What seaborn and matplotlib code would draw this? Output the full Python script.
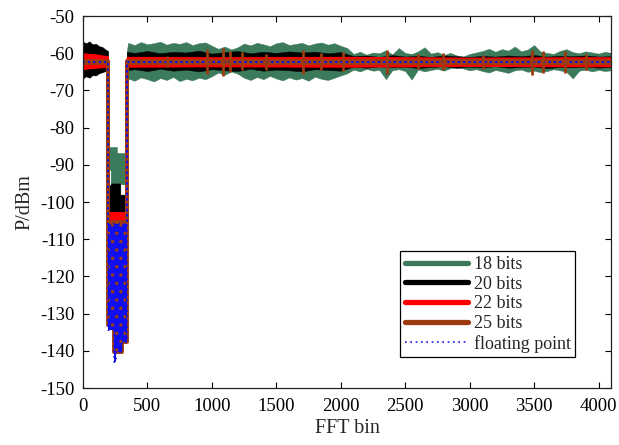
import matplotlib
matplotlib.use("Agg")
import seaborn as sns
import matplotlib.pyplot as plt
from matplotlib.lines import Line2D

# ---- values: FFT bin -> upper / lower edge of each trace (dBm) ----
# 18 bits
bins18 = [0, 50, 100, 150, 194,
          194, 215, 215, 264, 264, 340,
          340] + list(range(350, 4051, 50)) + [4096]
up18 = ([-57.5, -57.8, -58.2, -58.8, -59.5]
        + [-85.2, -85.2, -85.2, -85.2, -86.8, -86.8]
        + [-59.5]
        + [-57.2, -57.8, -57.0, -57.6, -57.3, -56.9, -57.7, -57.2, -57.5, -57.0, -57.8, -57.3, -57.1, -58.0]
        + [-58.8, -58.2, -59.0, -58.4]
        + [-57.4, -57.9, -57.2, -57.6, -58.1, -57.3, -57.0, -57.8, -57.5, -57.2, -57.9, -57.4, -57.1, -57.7,
           -57.3, -58.0, -58.6]
        + [-60.2, -59.6, -60.4, -59.8, -60.0, -59.2, -60.3, -58.6, -59.9, -60.2, -59.5, -58.4, -60.1, -59.7,
           -60.5, -59.9, -60.6, -60.9, -60.2, -59.8, -59.4, -58.8, -59.6, -58.9, -59.3, -58.2, -59.5, -59.0,
           -57.8, -59.6, -59.9, -60.2, -59.4, -58.9, -59.7, -60.0, -59.5, -59.8, -60.1, -59.6]
        + [-60.0])
lo18 = ([-66.0, -65.8, -65.4, -65.0, -64.6]
        + [-91.4, -91.4, -95.0, -95.0, -95.0, -95.4]
        + [-64.8]
        + [-66.8, -67.4, -66.5, -67.0, -67.6, -66.7, -67.2, -66.4, -67.5, -66.9, -67.3, -66.6, -67.0, -66.2]
        + [-65.2, -65.8, -64.9, -65.5]
        + [-66.6, -67.2, -66.4, -67.0, -66.1, -66.8, -67.3, -66.5, -67.1, -66.7, -67.4, -66.3, -66.9, -67.2,
           -66.6, -66.0, -65.4]
        + [-64.4, -64.9, -64.2, -64.7, -64.5, -67.0, -64.6, -64.3, -64.8, -67.1, -64.4, -64.9, -64.5, -64.2,
           -64.7, -64.0, -63.9, -64.1, -64.6, -64.3, -64.8, -65.2, -64.5, -64.9, -65.3, -64.6, -64.4, -65.0,
           -64.7, -65.1, -64.8, -64.3, -64.6, -65.0, -66.8, -64.7, -64.4, -64.9, -64.5, -64.8]
        + [-64.6])

# 20 bits
bins20 = ([0, 25, 50, 75, 100, 125, 150, 175, 194,
           194, 215, 215, 290, 290, 340,
           340, 400] + list(range(500, 4001, 100)) + [4096])
up20 = ([-56.9, -57.3, -56.8, -57.6, -57.4, -58.1, -58.3, -59.0, -59.4]
        + [-95.4, -95.4, -95.0, -95.0, -98.0, -98.0]
        + [-59.6, -59.9, -59.4, -60.0, -59.6, -59.8, -59.3, -60.1, -59.7, -59.4, -60.0, -59.6, -59.9, -59.5,
           -59.8, -59.6, -60.0, -59.7]
        + [-60.8, -60.6, -61.0, -60.5, -60.9, -60.7, -61.0, -60.6, -60.8, -61.0, -60.7, -60.9, -60.6, -60.8,
           -60.5, -60.9, -60.7, -60.8, -60.6, -60.9, -60.8])
lo20 = ([-66.8, -66.2, -66.6, -65.9, -66.0, -65.4, -65.1, -64.8, -64.6]
        + [-106.0, -106.0, -106.0, -106.0, -106.0, -106.0]
        + [-64.6, -64.3, -64.8, -64.2, -64.7, -64.4, -64.9, -64.3, -64.6, -64.8, -64.2, -64.7, -64.4, -64.6,
           -64.9, -64.3, -64.5, -64.7]
        + [-63.6, -63.9, -63.5, -63.8, -63.6, -64.0, -63.7, -63.5, -63.9, -63.6, -63.8, -63.5, -63.9, -63.7,
           -63.6, -64.0, -63.7, -63.8, -63.6, -63.9, -63.7])

# 22 bits
bins22 = [0, 50, 100, 150, 194, 194, 240, 240, 340, 340, 1000, 2000, 3000, 4096]
up22 = [-60.0, -60.2, -60.3, -60.6, -60.8, -102.7, -102.7, -102.7, -102.7, -61.0, -61.1, -61.0, -61.2, -61.1]
lo22 = [-64.3, -64.0, -63.9, -63.7, -63.6, -133.5, -133.5, -136.5, -136.5, -63.6, -63.5, -63.6, -63.4, -63.5]

# 25 bits
bins25 = [0, 194, 194, 240, 240, 300, 300, 340, 340, 4096]
up25 = [-62.1, -62.1, -105.5, -105.5, -105.5, -105.5, -105.5, -105.5, -62.1, -62.1]
lo25 = [-62.5, -62.5, -133.0, -133.0, -140.3, -140.3, -137.6, -137.6, -62.5, -62.5]
spike25 = [650, 960, 1085, 1140, 1230, 1420, 1705, 1850, 2015, 2357, 2600, 2790, 3100, 3480, 3566, 3736, 3900]
spike25_hi = [-60.8, -58.9, -58.6, -59.4, -59.8, -60.2, -59.2, -60.0, -59.6, -59.1, -60.3, -60.0, -60.4,
              -59.0, -59.5, -59.3, -60.1]
spike25_lo = [-63.8, -65.5, -66.0, -65.0, -64.6, -64.5, -65.6, -64.4, -64.9, -65.6, -64.3, -64.6, -64.2,
              -65.9, -65.2, -65.4, -64.5]

# floating point
binsfp = [0, 194, 194, 238, 238, 254, 254, 300, 300, 340, 340, 4096]
upfp = [-62.3, -62.3, -106.0, -106.0, -106.0, -106.0, -106.0, -106.0, -106.0, -106.0, -62.3, -62.3]
lofp = [-62.3, -62.3, -134.5, -134.5, -143.0, -143.0, -140.3, -140.3, -137.6, -137.6, -62.3, -62.3]

labels = ["18 bits", "20 bits", "22 bits", "25 bits", "floating point"]
c18, c20, c22, c25, cfp = "#3b7a5a", "black", "#ff0000", "#9c3a10", "#1010ee"

assert len(bins18) == len(up18) == len(lo18)
assert len(bins20) == len(up20) == len(lo20)

sns.set_style("ticks", {"xtick.direction": "in", "ytick.direction": "in"})
plt.rcParams["font.family"] = ["Liberation Serif", "DejaVu Serif"]
plt.rcParams["axes.unicode_minus"] = False
plt.rcParams["hatch.linewidth"] = 1.2

fig = plt.figure(figsize=(6.19, 4.45), dpi=100)
ax = fig.add_axes([0.134, 0.128, 0.853, 0.836])

ax.fill_between(bins18, up18, lo18, facecolor=c18, edgecolor=c18, linewidth=0.3)
ax.fill_between(bins20, up20, lo20, facecolor=c20, edgecolor=c20, linewidth=0.3)
ax.fill_between(bins22, up22, lo22, facecolor=c22, edgecolor=c22, linewidth=0.8)
ax.fill_between(bins25, up25, lo25, facecolor=c25, edgecolor=c25, linewidth=2.8)
ax.vlines(spike25, spike25_lo, spike25_hi, color=c25, linewidth=2.0)
# floating point: dense blue inside the notch, dotted trace everywhere
ax.fill_between(binsfp, upfp, lofp, facecolor=cfp, hatch="..", edgecolor=c25, linewidth=0)
ax.fill_between(binsfp, upfp, lofp, facecolor="none", edgecolor=cfp, linewidth=1.2,
                linestyle=(0, (1, 2.2)))

ax.set_xlim(0, 4096)
ax.set_ylim(-150, -50)
ax.set_xticks(range(0, 4001, 500))
ax.set_yticks(range(-150, -49, 10))
ax.tick_params(labelsize=13.5, length=4, width=0.8, top=True, right=True, colors="black")
ax.tick_params(axis="x", pad=7)
ax.tick_params(axis="y", pad=6)
for s in ax.spines.values():
    s.set_visible(True)
    s.set_linewidth(0.9)
    s.set_color("#222222")
ax.set_xlabel("FFT bin", fontsize=14.5, labelpad=3)
ax.set_ylabel("P/dBm", fontsize=14.5, labelpad=4)

handles = [Line2D([], [], color=c18, lw=3.8),
           Line2D([], [], color=c20, lw=3.8),
           Line2D([], [], color=c22, lw=3.8),
           Line2D([], [], color=c25, lw=3.8),
           Line2D([], [], color=cfp, lw=1.2, linestyle=(0, (1, 2.2)))]
leg = ax.legend(handles, labels, loc="lower right", bbox_to_anchor=(0.932, 0.083), fontsize=13,
                handlelength=3.5, handletextpad=0.3, labelspacing=0.15, borderpad=0.25,
                borderaxespad=0, fancybox=False, framealpha=1, edgecolor="black")
leg.get_frame().set_linewidth(0.9)

fig.savefig("out.png", dpi=100)
